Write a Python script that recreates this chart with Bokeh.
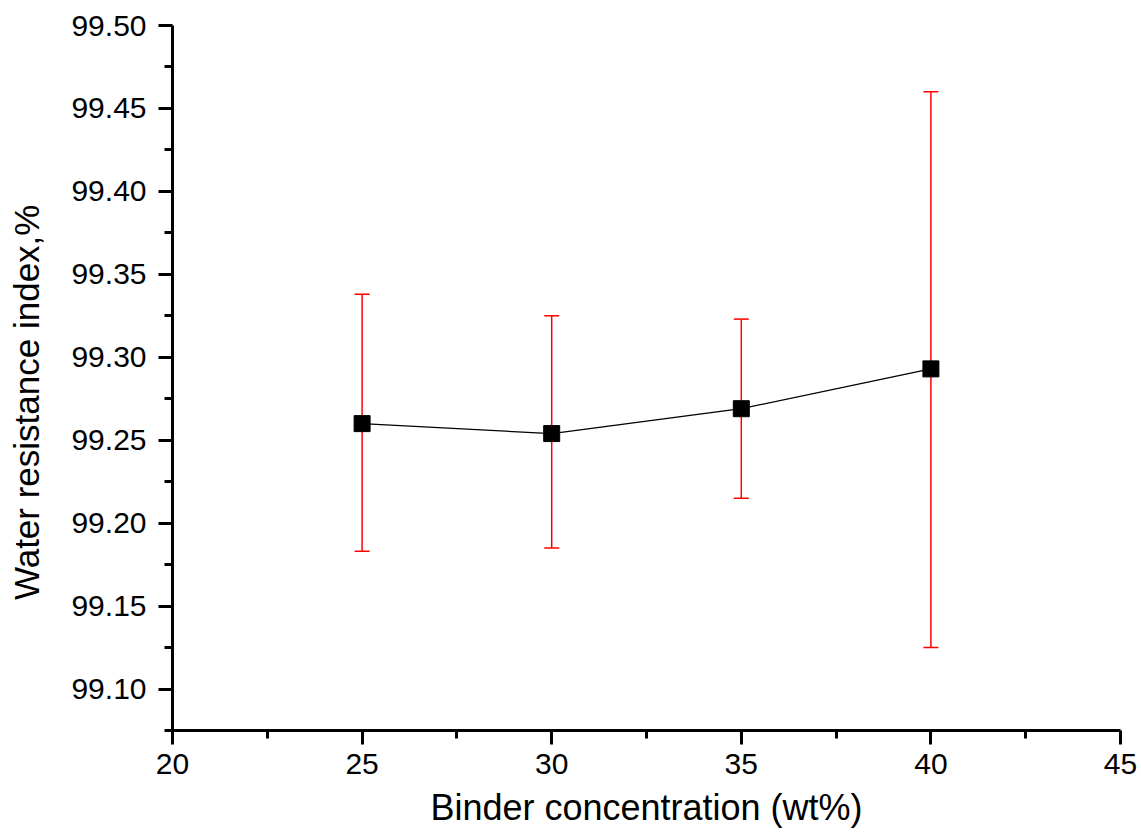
from bokeh.plotting import figure
from bokeh.models import ColumnDataSource, Range1d, Whisker, TeeHead, FixedTicker, NumeralTickFormatter
from bokeh.embed import file_html
from bokeh.resources import INLINE

conc = [25, 30, 35, 40]
wri = [99.260, 99.254, 99.269, 99.293]
err_upper = [99.338, 99.325, 99.323, 99.460]
err_lower = [99.183, 99.185, 99.215, 99.125]

x_ticks = [20, 25, 30, 35, 40, 45]
x_minor = [22.5, 27.5, 32.5, 37.5, 42.5]
y_ticks = [99.10, 99.15, 99.20, 99.25, 99.30, 99.35, 99.40, 99.45, 99.50]
y_minor = [99.075, 99.125, 99.175, 99.225, 99.275, 99.325, 99.375, 99.425, 99.475]

src = ColumnDataSource(dict(x=conc, y=wri, upper=err_upper, lower=err_lower))

p = figure(width=1141, height=837, output_backend="svg", toolbar_location=None,
           x_range=Range1d(20, 45), y_range=Range1d(99.075, 99.50),
           min_border_left=172, min_border_top=25, min_border_right=21, min_border_bottom=107)
p.outline_line_color = None
p.grid.visible = False
p.background_fill_color = "white"

FONT = "Liberation Sans"
for ax in (p.xaxis[0], p.yaxis[0]):
    ax.axis_line_width = 3
    ax.axis_line_color = "black"
    ax.major_tick_line_width = 3
    ax.minor_tick_line_width = 3
    ax.major_tick_out = 14
    ax.major_tick_in = 0
    ax.minor_tick_out = 8
    ax.minor_tick_in = 0
    ax.major_label_text_font = FONT
    ax.major_label_text_font_size = "30px"
    ax.major_label_text_color = "black"
    ax.axis_label_text_font = FONT
    ax.axis_label_text_font_style = "normal"
    ax.axis_label_text_color = "black"

p.xaxis.ticker = FixedTicker(ticks=x_ticks, minor_ticks=x_minor)
p.yaxis.ticker = FixedTicker(ticks=y_ticks, minor_ticks=y_minor)
p.yaxis.formatter = NumeralTickFormatter(format="0.00")
p.xaxis.major_label_standoff = 9
p.yaxis.major_label_standoff = 12
p.xaxis.axis_label = "Binder concentration (wt%)"
p.yaxis.axis_label = "Water resistance index,%" + "\u00a0" * 5
p.xaxis.axis_label_text_font_size = "36px"
p.yaxis.axis_label_text_font_size = "35px"
p.xaxis.axis_label_standoff = 10
p.yaxis.axis_label_standoff = 22

w = Whisker(source=src, base="x", upper="upper", lower="lower",
            line_color="red", line_width=1.5,
            upper_head=TeeHead(size=15, line_color="red", line_width=1.5),
            lower_head=TeeHead(size=15, line_color="red", line_width=1.5))
p.add_layout(w)

p.line("x", "y", source=src, line_color="black", line_width=1.3)
p.scatter("x", "y", source=src, marker="square", size=16, fill_color="black", line_color="black")

open("out.html", "w").write(file_html(p, INLINE))
